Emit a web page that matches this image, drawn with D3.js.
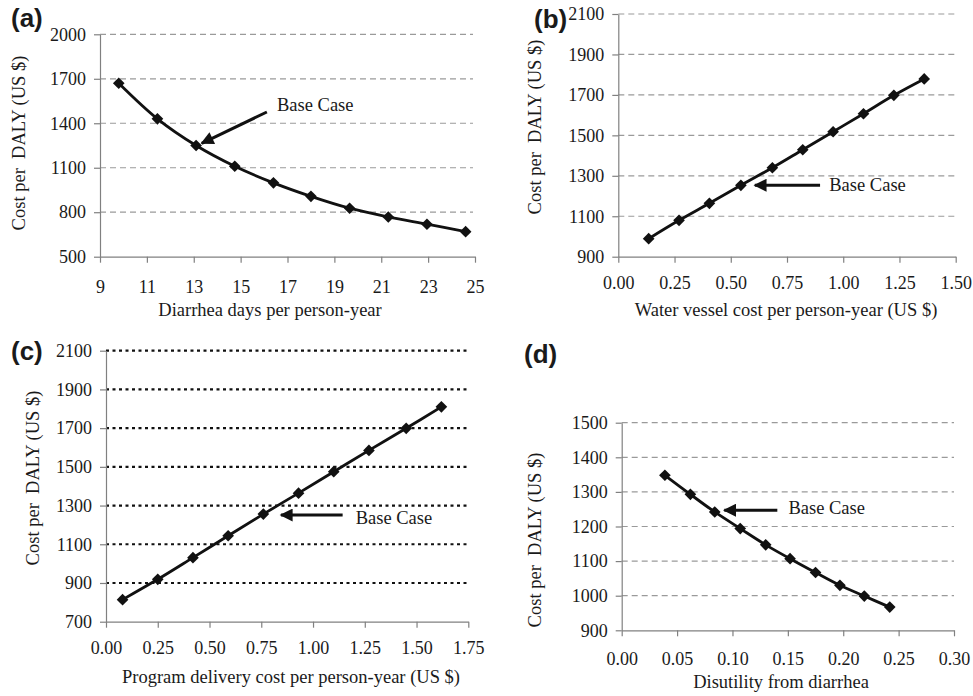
<!DOCTYPE html>
<html>
<head>
<meta charset="utf-8">
<script src="https://cdn.jsdelivr.net/npm/d3@7"></script>
<style>
  html, body { margin: 0; padding: 0; background: #fff; }
  svg { display: block; }
  text { font-family: "Liberation Serif", "Times New Roman", serif; fill: #1a1a1a; }
</style>
</head>
<body>
<svg id="chart" width="973" height="696"></svg>
<script>
// ---- data ----
const aX = [9.8, 11.45, 13.1, 14.75, 16.4, 18.0, 19.65, 21.3, 22.95, 24.6];
const aY = [1670, 1430, 1250, 1110, 998, 907, 827, 768, 719, 669];
const aXTicks = [9, 11, 13, 15, 17, 19, 21, 23, 25];
const aYTicks = [500, 800, 1100, 1400, 1700, 2000];

const bX = [0.135, 0.27, 0.405, 0.545, 0.685, 0.82, 0.955, 1.09, 1.225, 1.36];
const bY = [989, 1080, 1164, 1253, 1340, 1429, 1518, 1607, 1698, 1779];
const bXTicks = [0, 0.25, 0.5, 0.75, 1.0, 1.25, 1.5];
const bYTicks = [900, 1100, 1300, 1500, 1700, 1900, 2100];

const cX = [0.08, 0.25, 0.42, 0.59, 0.76, 0.93, 1.10, 1.27, 1.45, 1.62];
const cY = [814, 919, 1031, 1144, 1256, 1364, 1475, 1585, 1699, 1810];
const cXTicks = [0, 0.25, 0.5, 0.75, 1.0, 1.25, 1.5, 1.75];
const cYTicks = [700, 900, 1100, 1300, 1500, 1700, 1900, 2100];

const dX = [0.039, 0.062, 0.084, 0.107, 0.130, 0.152, 0.175, 0.197, 0.219, 0.242];
const dY = [1348, 1293, 1242, 1194, 1147, 1107, 1067, 1030, 999, 967];
const dXTicks = [0, 0.05, 0.10, 0.15, 0.20, 0.25, 0.30];
const dYTicks = [900, 1000, 1100, 1200, 1300, 1400, 1500];

const panelLabels = ["(a)", "(b)", "(c)", "(d)"];
const xTitles = ["Diarrhea days per person-year", "Water vessel cost per person-year (US $)",
                 "Program delivery cost per person-year (US $)", "Disutility from diarrhea"];
const yTitle = "Cost per  DALY (US $)";
const baseLabel = "Base Case";
// arrow annotations in data coordinates: [fromX, fromY, toX, toY], label [x, y]
const arrows = [[16.12, 1476, 13.34, 1265], [0.897, 1253, 0.607, 1253],
                [1.143, 1251, 0.845, 1251], [0.1405, 1247, 0.0926, 1247]];
const arrowLabels = [[16.55, 1524], [0.938, 1255], [1.206, 1234], [0.1505, 1254]];

// ---- layout ----
const panels = [
  { xs: aX, ys: aY, xt: aXTicks, yt: aYTicks, fmt: d3.format("d"), left: 100, right: 475, top: 34.3, bottom: 256.7,
    gridRight: 473, grid: "dash", lab: [11, 27], xtPad: 18, xTitlePos: [270, 316], yTitlePos: [19, 143] },
  { xs: bX, ys: bY, xt: bXTicks, yt: bYTicks, fmt: d3.format(".2f"), left: 618.3, right: 955.7, top: 14, bottom: 256.7,
    gridRight: 956, grid: "dash", lab: [534, 28], xtPad: 14, xTitlePos: [786, 316], yTitlePos: [535, 127] },
  { xs: cX, ys: cY, xt: cXTicks, yt: cYTicks, fmt: d3.format(".2f"), left: 106, right: 468.3, top: 350.7, bottom: 621.7,
    gridRight: 467, grid: "dot", lab: [11, 360], xtPad: 14, xTitlePos: [291, 683], yTitlePos: [33, 478] },
  { xs: dX, ys: dY, xt: dXTicks, yt: dYTicks, fmt: d3.format(".2f"), left: 621.7, right: 954, top: 422.7, bottom: 630.3,
    gridRight: 954, grid: "dash", lab: [524, 363], xtPad: 16, xTitlePos: [781, 688], yTitlePos: [535, 540] }
];

const svg = d3.select("#chart");
const defs = svg.append("defs");
defs.append("marker").attr("id", "ah").attr("viewBox", "0 0 10 10").attr("refX", 9).attr("refY", 5)
  .attr("markerUnits", "userSpaceOnUse").attr("markerWidth", 16).attr("markerHeight", 13).attr("orient", "auto")
  .append("path").attr("d", "M0,0 L10,5 L0,10 Z").attr("fill", "#111");

panels.forEach((p, i) => {
  const x = d3.scaleLinear().domain([p.xt[0], p.xt[p.xt.length - 1]]).range([p.left, p.right]);
  const y = d3.scaleLinear().domain([p.yt[0], p.yt[p.yt.length - 1]]).range([p.bottom, p.top]);
  const g = svg.append("g");

  // gridlines
  g.selectAll("line.grid").data(p.yt.slice(1)).enter().append("line")
    .attr("x1", p.left).attr("x2", p.gridRight)
    .attr("y1", d => y(d)).attr("y2", d => y(d))
    .attr("stroke", p.grid === "dot" ? "#111" : "#9a9a9a")
    .attr("stroke-width", p.grid === "dot" ? 2.2 : 1.2)
    .attr("stroke-dasharray", p.grid === "dot" ? "3,3.5" : "6,4");

  // axes
  const xa = g.append("g").attr("transform", `translate(0,${p.bottom})`)
    .call(d3.axisBottom(x).tickValues(p.xt).tickFormat(p.fmt).tickSize(6).tickSizeOuter(0).tickPadding(p.xtPad));
  const ya = g.append("g").attr("transform", `translate(${p.left},0)`)
    .call(d3.axisLeft(y).tickValues(p.yt).tickFormat(d3.format("d")).tickSize(6).tickSizeOuter(0).tickPadding(8));
  [xa, ya].forEach(a => {
    a.attr("font-family", null).attr("font-size", null);
    a.select(".domain").attr("stroke", "#808080").attr("stroke-width", 1.2);
    a.selectAll(".tick line").attr("stroke", "#808080").attr("stroke-width", 1.2);
    a.selectAll(".tick text").style("font-family", "'Liberation Serif', serif").attr("font-size", 18).attr("fill", "#1a1a1a");
  });

  // line + markers
  const pts = p.xs.map((v, k) => [v, p.ys[k]]);
  g.append("path").datum(pts)
    .attr("d", d3.line().x(d => x(d[0])).y(d => y(d[1])).curve(d3.curveCatmullRom.alpha(0.5)))
    .attr("fill", "none").attr("stroke", "#111").attr("stroke-width", 2.8);
  g.selectAll("path.mk").data(pts).enter().append("path")
    .attr("d", d3.symbol().type(d3.symbolSquare).size(68))
    .attr("transform", d => `translate(${x(d[0])},${y(d[1])}) rotate(45)`)
    .attr("fill", "#111");

  // arrow + label
  const ar = arrows[i];
  g.append("line").attr("x1", x(ar[0])).attr("y1", y(ar[1])).attr("x2", x(ar[2])).attr("y2", y(ar[3]))
    .attr("stroke", "#111").attr("stroke-width", 3).attr("marker-end", "url(#ah)");
  g.append("text").attr("x", x(arrowLabels[i][0])).attr("y", y(arrowLabels[i][1]))
    .attr("dominant-baseline", "central").attr("font-size", 18.5).text(baseLabel);

  // titles
  g.append("text").attr("x", p.xTitlePos[0]).attr("y", p.xTitlePos[1]).attr("text-anchor", "middle")
    .attr("font-size", 18.5).text(xTitles[i]);
  g.append("text").attr("transform", `translate(${p.yTitlePos[0]},${p.yTitlePos[1]}) rotate(-90)`)
    .attr("text-anchor", "middle").attr("dominant-baseline", "central").attr("font-size", 18.5)
    .style("white-space", "pre").text(yTitle);

  // panel label
  g.append("text").attr("x", p.lab[0]).attr("y", p.lab[1])
    .style("font-family", "'Liberation Sans', Arial, sans-serif").attr("font-weight", "bold").attr("font-size", 26)
    .text(panelLabels[i]);
});
</script>
</body>
</html>
